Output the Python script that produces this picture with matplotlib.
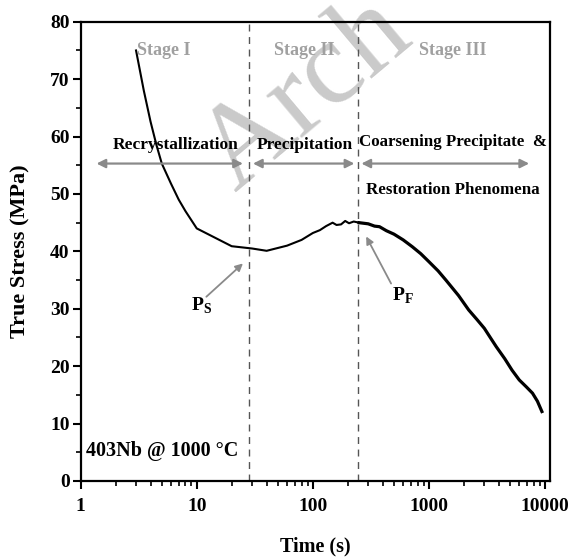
import matplotlib
matplotlib.use("Agg")
import matplotlib.pyplot as plt
from matplotlib.ticker import FixedLocator, LogLocator, NullFormatter, MultipleLocator

plt.rcParams['font.family'] = ['Liberation Serif', 'DejaVu Serif']
plt.rcParams['font.weight'] = 'bold'
plt.rcParams['mathtext.fontset'] = 'custom'
plt.rcParams['mathtext.bf'] = 'Liberation Serif:bold'
plt.rcParams['mathtext.rm'] = 'Liberation Serif'

# ---- data ----
time_s = [3, 3.5, 4, 4.5, 5, 6, 7, 8, 10, 20, 30, 40, 60, 80, 100, 115, 130, 148,
          160, 175, 190, 205, 225, 250]
stress = [75, 68.0, 62.6, 58.5, 55.3, 51.8, 49.0, 47.0, 44.0, 40.9, 40.5, 40.1,
          41.0, 42.0, 43.2, 43.7, 44.4, 45.0, 44.6, 44.7, 45.3, 44.9, 45.2, 45.0]
time_tail = [250, 300, 340, 375, 430, 500, 600, 720, 850, 1000, 1200, 1400, 1800,
             2200, 2600, 3000, 3400, 3800, 4500, 5200, 6000, 6900, 7800, 8600, 9400]
stress_tail = [45.0, 44.8, 44.4, 44.3, 43.6, 43.0, 42.0, 40.8, 39.6, 38.2, 36.6,
               35.0, 32.3, 29.8, 28.1, 26.6, 24.9, 23.4, 21.3, 19.3, 17.6, 16.4,
               15.3, 13.9, 12.1]
stage_bounds = [28.4, 246]
stage_labels = ['Stage I', 'Stage II', 'Stage III']
stage_label_x = [5.2, 85, 1590]

fig = plt.figure(figsize=(5.68, 5.58), dpi=100)
ax = fig.add_axes([0.142, 0.138, 0.826, 0.823])

# watermark
ax.text(0.415, 0.655, 'Arch', transform=fig.transFigure, rotation=40,
        rotation_mode='anchor', ha='left', va='baseline', fontsize=85,
        color='#cacaca', fontweight='normal', zorder=0.5, clip_on=False)

ax.plot(time_s, stress, color='black', lw=1.5, zorder=3)
ax.plot(time_tail, stress_tail, color='black', lw=2.3, zorder=3)

for xb in stage_bounds:
    ax.axvline(xb, color='#555555', lw=1.0, ls=(0, (5, 4)), zorder=2)

for lab, xl in zip(stage_labels, stage_label_x):
    ax.text(xl, 75, lab, color='#a0a0a0', fontsize=13, ha='center', va='center',
            fontweight='bold')

arrow_kw = dict(arrowstyle='<|-|>', color='#8a8a8a', lw=1.6, mutation_scale=13,
                shrinkA=0, shrinkB=0)
for x0, x1 in [(1.37, 25), (30.5, 228), (262, 7300)]:
    ax.annotate('', xy=(x1, 55.3), xytext=(x0, 55.3), arrowprops=arrow_kw)

ax.text(6.6, 58.6, 'Recrystallization', fontsize=12.5, ha='center', va='center')
ax.text(85, 58.6, 'Precipitation', fontsize=12.5, ha='center', va='center')
ax.text(1620, 59.1, 'Coarsening Precipitate  &', fontsize=12.2, ha='center', va='center')
ax.text(1620, 50.7, 'Restoration Phenomena', fontsize=12.2, ha='center', va='center')

ax.annotate('', xy=(25, 37.9), xytext=(12.1, 32.1),
            arrowprops=dict(arrowstyle='-|>', color='#8a8a8a', lw=1.3,
                            mutation_scale=11, shrinkA=0, shrinkB=0))
ax.annotate('', xy=(288, 42.6), xytext=(472, 34.4),
            arrowprops=dict(arrowstyle='-|>', color='#8a8a8a', lw=1.3,
                            mutation_scale=11, shrinkA=0, shrinkB=0))
ax.text(10.9, 30.5, r'$\mathbf{P}_\mathbf{S}$', fontsize=14, ha='center', va='center')
ax.text(600, 32.2, r'$\mathbf{P}_\mathbf{F}$', fontsize=14, ha='center', va='center')

ax.text(1.12, 5.2, '403Nb @ 1000 °C', fontsize=14.5, ha='left', va='center')

ax.set_xscale('log')
ax.set_xlim(1, 11000)
ax.set_ylim(0, 80)
ax.xaxis.set_major_locator(FixedLocator([1, 10, 100, 1000, 10000]))
ax.set_xticklabels(['1', '10', '100', '1000', '10000'])
ax.xaxis.set_minor_locator(LogLocator(base=10, subs=range(2, 10), numticks=20))
ax.xaxis.set_minor_formatter(NullFormatter())
ax.yaxis.set_major_locator(MultipleLocator(10))
ax.yaxis.set_minor_locator(MultipleLocator(5))

ax.tick_params(axis='both', which='major', direction='out', length=6, width=1.5,
               labelsize=14, top=False, right=False)
ax.tick_params(axis='both', which='minor', direction='out', length=3.5, width=1.2,
               top=False, right=False)
ax.tick_params(axis='x', pad=6)
ax.tick_params(axis='y', pad=2)
for lab in ax.get_xticklabels() + ax.get_yticklabels():
    lab.set_fontweight('bold')
for sp in ax.spines.values():
    sp.set_linewidth(1.6)

ax.set_xlabel('Time (s)', fontsize=14.5, fontweight='bold', labelpad=16)
ax.set_ylabel('True Stress (MPa)', fontsize=16, fontweight='bold', labelpad=14)

fig.savefig('out.png', dpi=100)
